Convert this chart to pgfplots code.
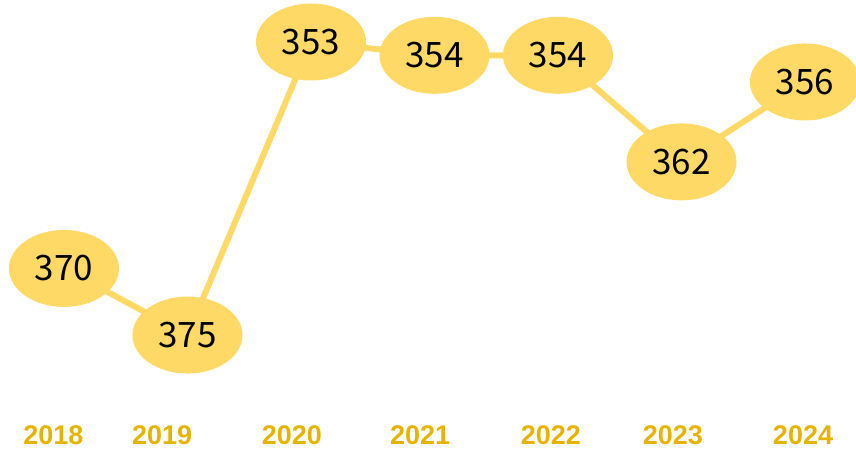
\documentclass[border=0pt]{standalone}
\usepackage{pgfplots}
\pgfplotsset{compat=1.18}
\usepackage{fontspec}
\setmainfont{Liberation Sans}
\newfontfamily\cjk{Noto Sans CJK JP}
\usetikzlibrary{shapes.geometric}
\definecolor{dotgold}{RGB}{255,217,102}
\definecolor{yeargold}{RGB}{230,180,0}
\begin{document}
\begin{tikzpicture}
\begin{axis}[
  at={(0,0)}, anchor=south west,
  scale only axis, width=856pt, height=449pt,
  xmin=-0.518, xmax=6.413,
  ymin=349.847, ymax=383.556, y dir=reverse,
  axis line style={draw=none},
  major tick length=0pt,
  ytick=\empty,
  xtick={-0.085,0.794,1.846,2.883,3.943,4.931,5.984},
  xticklabels={2018,2019,2020,2021,2022,2023,2024},
  xticklabel style={anchor=base, yshift=5pt, text=yeargold,
    font=\fontsize{27}{30}\selectfont\bfseries},
  clip=false,
  /pgf/number format/assume math mode=true,
  nodes near coords,
  every node near coord/.append style={ellipse, fill=dotgold, anchor=center,
    minimum width=110pt, minimum height=77pt, inner sep=0pt, text=black,
    font=\cjk\fontsize{35}{40}\selectfont},
]
\addplot[draw=dotgold, line width=6pt, mark=none] coordinates {
  (0,370) (1,375) (2,353) (3,354) (4,354) (5,362) (6,356)
};
\end{axis}
\pgfresetboundingbox
\path[use as bounding box] (0,0) rectangle (856pt,449pt);
\end{tikzpicture}
\end{document}
